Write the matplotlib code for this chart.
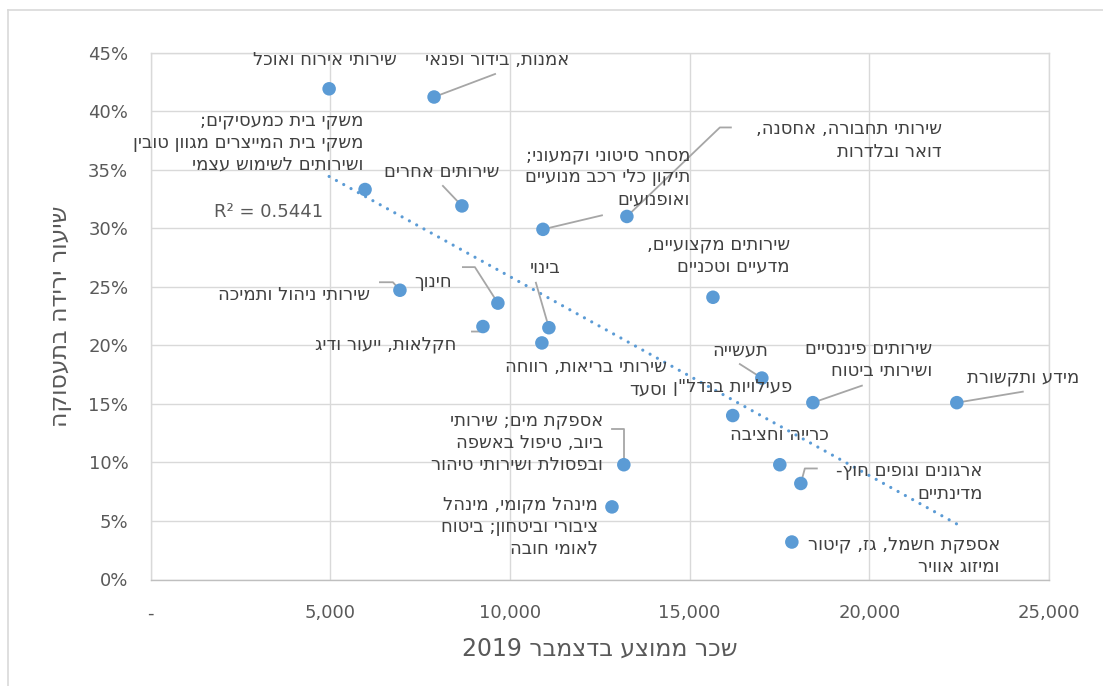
import re
import numpy as np
import matplotlib
matplotlib.use("Agg")
import matplotlib.pyplot as plt
from matplotlib.lines import Line2D

# ---------------- data ----------------
industries = [
    "שירותי אירוח ואוכל",
    "אמנות, בידור ופנאי",
    "משקי בית כמעסיקים;\nמשקי בית המייצרים מגוון טובין\nושירותים לשימוש עצמי",
    "שירותים אחרים",
    "מסחר סיטוני וקמעוני;\nתיקון כלי רכב מנועיים\nואופנועים",
    "שירותי תחבורה, אחסנה,\nדואר ובלדרות",
    "שירותי ניהול ותמיכה",
    "חינוך",
    "חקלאות, ייעור ודיג",
    "בינוי",
    "שירותי בריאות, רווחה\nוסעד",
    "שירותים מקצועיים,\nמדעיים וטכניים",
    "תעשייה",
    'פעילויות בנדל"ן',
    "שירותים פיננסיים\nושירותי ביטוח",
    "מידע ותקשורת",
    "אספקת מים; שירותי\nביוב, טיפול באשפה\nובפסולת ושירותי טיהור",
    "מינהל מקומי, מינהל\nציבורי וביטחון; ביטוח\nלאומי חובה",
    "כרייה וחציבה",
    "ארגונים וגופים חוץ-\nמדינתיים",
    "אספקת חשמל, גז, קיטור\nומיזוג אוויר",
]
avg_wage = [4970, 7890, 5970, 8665, 10920, 13255, 6940, 9666, 9250, 11085, 10890,
            15650, 17010, 16200, 18430, 22435, 13170, 12840, 17510, 18095, 17845]
drop_rate = [0.419, 0.412, 0.333, 0.319, 0.299, 0.310, 0.247, 0.236, 0.216, 0.215, 0.202,
             0.241, 0.172, 0.140, 0.151, 0.151, 0.098, 0.062, 0.098, 0.082, 0.032]

x_ticks = [0, 5000, 10000, 15000, 20000, 25000]
x_tick_labels = ["-", "5,000", "10,000", "15,000", "20,000", "25,000"]
y_ticks = [0, 0.05, 0.10, 0.15, 0.20, 0.25, 0.30, 0.35, 0.40, 0.45]
y_tick_labels = ["0%", "5%", "10%", "15%", "20%", "25%", "30%", "35%", "40%", "45%"]
x_title = "שכר ממוצע בדצמבר 2019"
y_title = "שיעור ירידה בתעסוקה"
r2_text = "R² = 0.5441"

# label layout: (dx, dy, ha) in pixels relative to the marker (dy up)
label_layout = [
    (-4, 29, "center"), (63, 37, "center"), (-2, 47, "right"), (-20, 34, "center"),
    (147, 52, "right"), (315, 76, "right"), (-30, -5, "right"), (-65, 21, "center"),
    (-97, -18, "center"), (-4, 60, "center"), (125, -35, "right"), (77, 42, "right"),
    (-22, 28, "center"), (0, 29, "center"), (119, 43, "right"), (66, 25, "center"),
    (-21, 22, "right"), (-14, -20, "right"), (0, 30, "center"), (182, 1, "right"),
    (208, -14, "right"),
]
# leader lines (pixel offsets relative to the marker)
leaders = {
    1: [(0, 0), (61, 23)],
    3: [(0, 0), (-19, 20)],
    4: [(0, 0), (59, 14)],
    5: [(0, 0), (93, 89), (104, 89)],
    6: [(0, 0), (-7, 8), (-20, 8)],
    7: [(0, 0), (-23, 36), (-35, 36)],
    8: [(0, 0), (-1, -5), (-11, -5)],
    9: [(0, 0), (-13, 45)],
    12: [(0, 0), (-22, 14)],
    14: [(0, 0), (49, 17)],
    15: [(0, 0), (66, 11)],
    16: [(0, 0), (0, 36), (-12, 36)],
    19: [(0, 0), (4, 15), (16, 15)],
}


def visual(s):
    """Convert logical-order RTL text to visual (left-to-right) order."""
    out = []
    for line in s.split("\n"):
        r = line[::-1]
        r = re.sub(r"[0-9]+", lambda m: m.group()[::-1], r)
        out.append(r)
    return "\n".join(out)


plt.rcParams["font.family"] = ["DejaVu Sans"]
W, H = 1103, 686
fig = plt.figure(figsize=(W / 100, H / 100), dpi=100)
fig.patch.set_facecolor("white")

# chart border (left and top visible)
fig.add_artist(Line2D([8 / W, 8 / W], [0, 1 - 10 / H], transform=fig.transFigure, color="#d9d9d9", lw=1.2))
fig.add_artist(Line2D([8 / W, 1], [1 - 10 / H, 1 - 10 / H], transform=fig.transFigure, color="#d9d9d9", lw=1.2))

left, right, top, bottom = 150.5, 1049, 52.5, 579.5
ax = fig.add_axes([left / W, 1 - bottom / H, (right - left) / W, (bottom - top) / H])
ax.set_xlim(0, 25000)
ax.set_ylim(0, 0.45)
ax.set_xticks(x_ticks)
ax.set_xticklabels(x_tick_labels)
ax.set_yticks(y_ticks)
ax.set_yticklabels(y_tick_labels)
ax.tick_params(length=0, labelsize=13, labelcolor="#595959")
ax.tick_params(axis="x", pad=18)
ax.tick_params(axis="y", pad=16)
ax.grid(True, color="#d9d9d9", lw=1.0)
ax.set_axisbelow(True)
for sp in ax.spines.values():
    sp.set_color("#d9d9d9")
    sp.set_linewidth(1.0)
ax.spines["bottom"].set_color("#bfbfbf")

ax.scatter(avg_wage, drop_rate, s=95, color="#5b9bd5", zorder=3, edgecolors="none")

# linear trendline
xw = np.array(avg_wage, dtype=float)
yd = np.array(drop_rate, dtype=float)
coef = np.polyfit(xw, yd, 1)
xt = np.array([xw.min(), xw.max()])
ax.plot(xt, np.polyval(coef, xt), color="#5b9bd5", lw=2.3, linestyle=(0, (0.01, 2.6)),
        dash_capstyle="round", zorder=2)

# labels and leader lines
fig.canvas.draw()
inv = ax.transAxes.inverted()
for i, (name, xv, yv) in enumerate(zip(industries, avg_wage, drop_rate)):
    dx, dy, ha = label_layout[i]
    ax.annotate(visual(name), xy=(xv, yv), xytext=(dx, dy), textcoords="offset pixels",
                ha=ha, va="center", multialignment=ha, fontsize=13, color="#404040",
                linespacing=1.3, zorder=4)
    if i in leaders:
        px, py = ax.transData.transform((xv, yv))
        pts = np.array([(px + ox, py + oy) for ox, oy in leaders[i]])
        pa = inv.transform(pts)
        ax.plot(pa[:, 0], pa[:, 1], transform=ax.transAxes, color="#a6a6a6", lw=1.3, zorder=2.5)

# R² label
fig.text(323 / W, 1 - 212 / H, r2_text, ha="right", va="center", fontsize=13, color="#595959")

# axis titles
fig.text(600 / W, 1 - 649 / H, visual(x_title), ha="center", va="center", fontsize=17, color="#595959")
fig.text(60 / W, 1 - 316 / H, visual(y_title), ha="center", va="center", fontsize=17,
         color="#595959", rotation=90)

fig.savefig("out.png", dpi=100)
